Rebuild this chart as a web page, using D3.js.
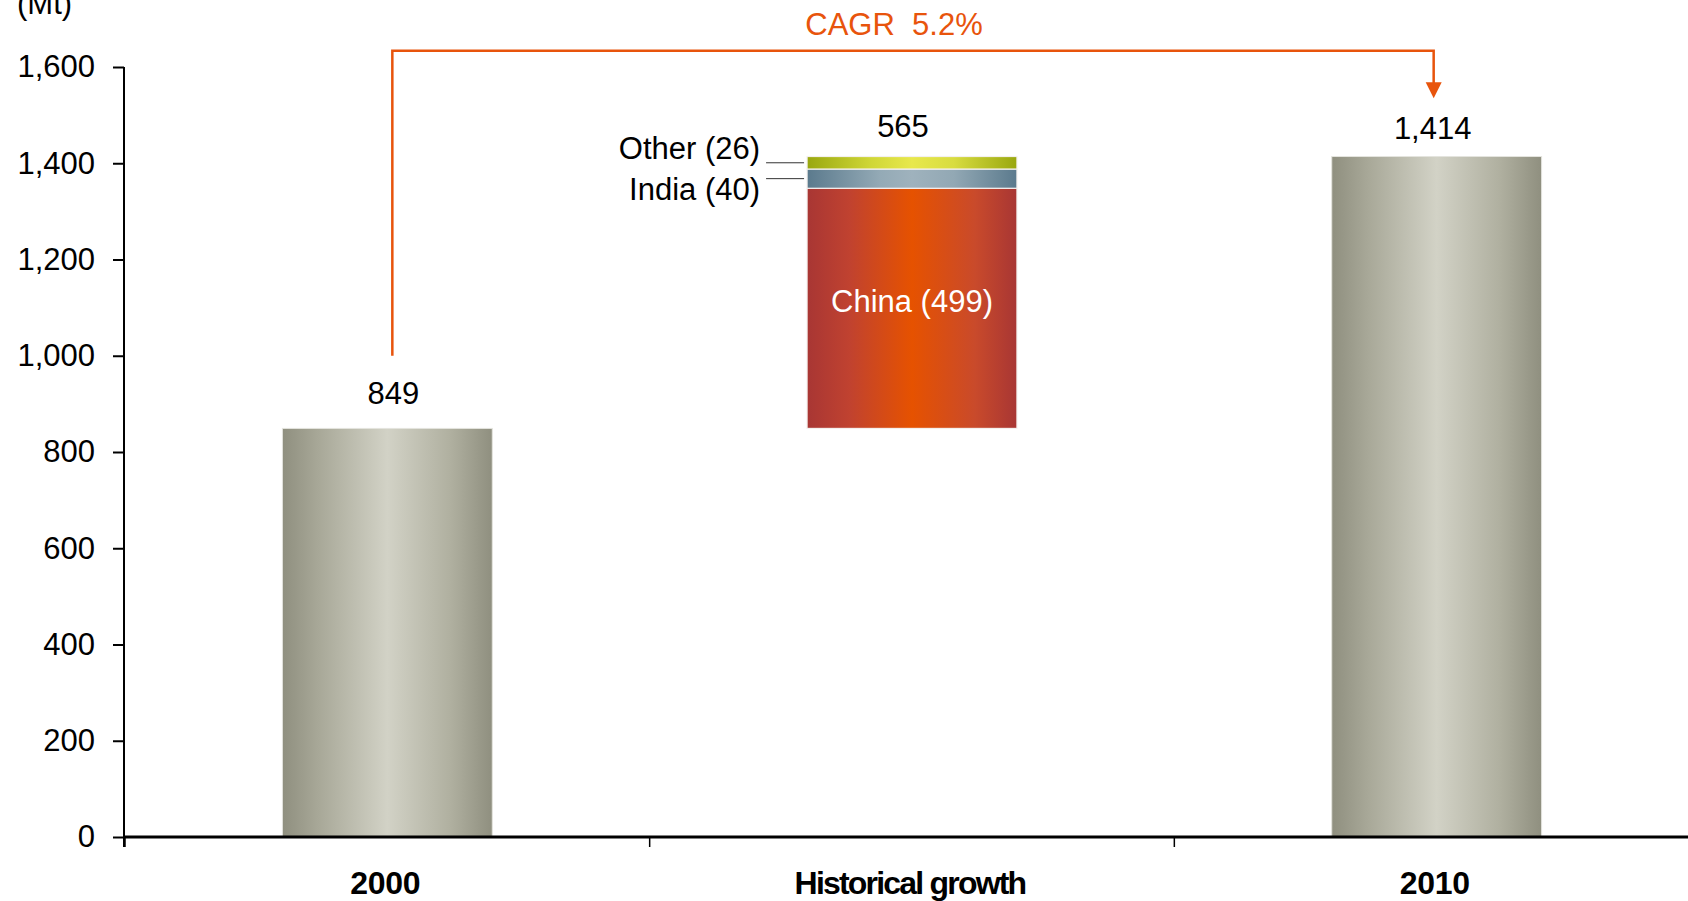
<!DOCTYPE html>
<html>
<head>
<meta charset="utf-8">
<script src="https://cdn.jsdelivr.net/npm/d3@7"></script>
<style>
  body { margin: 0; background: #fff; }
  text { font-family: "Liberation Sans", Arial, sans-serif; }
</style>
</head>
<body>
<div id="chart"></div>
<script>
const categories = ["2000", "Historical growth", "2010"];
const totals = [849, 565, 1414];
const segNames = ["China", "India", "Other"];
const segValues = [499, 40, 26];
const yTicks = [0, 200, 400, 600, 800, 1000, 1200, 1400, 1600];
const cagrLabel = "CAGR  5.2%";

const width = 1688, height = 901;

const svg = d3.select("#chart")
  .append("svg")
  .attr("width", width)
  .attr("height", height);

const x = d3.scaleBand().domain(categories).range([125, 1699]).padding(0);
const y = d3.scaleLinear().domain([0, 1600]).range([837, 67]);
const barW = x.bandwidth() * 0.4;
const cx = d => x(d) + x.bandwidth() / 2;

// gradients
const defs = svg.append("defs");
function grad(id, stops) {
  const g = defs.append("linearGradient").attr("id", id)
    .attr("x1", "0%").attr("x2", "100%").attr("y1", "0%").attr("y2", "0%");
  stops.forEach(s => g.append("stop").attr("offset", s[0]).attr("stop-color", s[1]));
}
grad("gGray", [[0, "#8f8f7f"], [0.18, "#a9a999"], [0.5, "#d2d2c6"], [0.8, "#b0b0a0"], [1, "#8f8f7f"]]);
grad("gChina", [[0, "#a83634"], [0.2, "#c04230"], [0.5, "#e65200"], [0.8, "#c94a2b"], [1, "#a83634"]]);
grad("gIndia", [[0, "#5b7a8d"], [0.35, "#94aab6"], [0.5, "#9fb2bd"], [0.7, "#92a8b4"], [1, "#5b7a8d"]]);
grad("gOther", [[0, "#99a70f"], [0.3, "#cfd636"], [0.5, "#e8e84c"], [0.7, "#d8dc40"], [1, "#99a70f"]]);

// y axis
const yAxis = svg.append("g")
  .attr("transform", "translate(124,0)")
  .call(d3.axisLeft(y).tickValues(yTicks).tickSize(11).tickPadding(18)
    .tickFormat(d3.format(",")));
yAxis.select(".domain").remove();
yAxis.selectAll(".tick line").attr("stroke", "#000").attr("stroke-width", 2);
yAxis.selectAll(".tick text")
  .attr("font-size", 31).attr("fill", "#000")
  .attr("font-family", "Liberation Sans, Arial, sans-serif");
svg.append("line")
  .attr("x1", 124).attr("x2", 124)
  .attr("y1", y(1600)).attr("y2", 847)
  .attr("stroke", "#000").attr("stroke-width", 2);

// totals bars (2000, 2010)
const ends = [0, 2];
svg.selectAll("rect.total")
  .data(ends)
  .join("rect")
  .attr("class", "total")
  .attr("x", i => cx(categories[i]) - barW / 2)
  .attr("width", barW)
  .attr("y", i => y(totals[i]))
  .attr("height", i => y(0) - y(totals[i]))
  .attr("fill", "url(#gGray)")
  .attr("stroke", "#e4e4de").attr("stroke-width", 1);

// stacked growth bar
let acc = totals[0];
const stack = segValues.map((v, i) => {
  const s = { name: segNames[i], value: v, y0: acc, y1: acc + v };
  acc += v;
  return s;
});
const fills = ["url(#gChina)", "url(#gIndia)", "url(#gOther)"];
const mid = categories[1];
svg.selectAll("rect.seg")
  .data(stack)
  .join("rect")
  .attr("class", "seg")
  .attr("x", cx(mid) - barW / 2)
  .attr("width", barW)
  .attr("y", d => y(d.y1))
  .attr("height", d => y(d.y0) - y(d.y1))
  .attr("fill", (d, i) => fills[i])
  .attr("stroke", "#f4f0ee").attr("stroke-width", 1.2);

// China label inside
svg.append("text")
  .attr("x", cx(mid))
  .attr("y", y((stack[0].y0 + stack[0].y1) / 2) + 4)
  .attr("text-anchor", "middle")
  .attr("font-size", 31).attr("fill", "#fff")
  .text(`${stack[0].name} (${stack[0].value})`);

// India / Other side labels with leaders
const barLeft = cx(mid) - barW / 2;
stack.slice(1).forEach((d, i) => {
  const ly = y((d.y0 + d.y1) / 2);
  svg.append("line")
    .attr("x1", barLeft - 41).attr("x2", barLeft - 3)
    .attr("y1", ly).attr("y2", ly)
    .attr("stroke", "#333").attr("stroke-width", 1);
  svg.append("text")
    .attr("x", barLeft - 47)
    .attr("y", d.name === "Other" ? ly - 4 : ly + 21)
    .attr("text-anchor", "end")
    .attr("font-size", 31).attr("fill", "#000")
    .text(`${d.name} (${d.value})`);
});

// value labels above bars
const labelDx = [6, -9, -4], labelGap = [24, 20, 18];
svg.selectAll("text.val")
  .data(categories)
  .join("text")
  .attr("class", "val")
  .attr("x", (d, i) => cx(d) + labelDx[i])
  .attr("y", (d, i) => y(i === 1 ? totals[0] + totals[1] : totals[i]) - labelGap[i])
  .attr("text-anchor", "middle")
  .attr("font-size", 31).attr("fill", "#000")
  .text((d, i) => d3.format(",")(totals[i]));

// x axis
svg.append("line")
  .attr("x1", 124).attr("x2", width)
  .attr("y1", y(0)).attr("y2", y(0))
  .attr("stroke", "#000").attr("stroke-width", 3);
svg.selectAll("line.xtick")
  .data(categories)
  .join("line")
  .attr("class", "xtick")
  .attr("x1", d => x(d)).attr("x2", d => x(d))
  .attr("y1", y(0)).attr("y2", y(0) + 10)
  .attr("stroke", "#000").attr("stroke-width", 1.5);
svg.selectAll("text.xlab")
  .data(categories)
  .join("text")
  .attr("class", "xlab")
  .attr("x", d => cx(d) - 2)
  .attr("y", 894)
  .attr("text-anchor", "middle")
  .attr("font-size", 32).attr("font-weight", "bold")
  .attr("letter-spacing", d => d.length > 4 ? -1.8 : -0.3)
  .attr("fill", "#000")
  .text(d => d);

// unit label
svg.append("text")
  .attr("x", 17).attr("y", 14)
  .attr("font-size", 31).attr("fill", "#000")
  .text("(Mt)");

// CAGR bracket
const orange = "#e8540c";
const xa = cx(categories[0]) + 5, xb = cx(categories[2]) - 3;
const topY = y(1634), startY = y(1000), tipY = y(1535);
svg.append("path")
  .attr("d", `M${xa},${startY}V${topY}H${xb}V${tipY - 15}`)
  .attr("fill", "none").attr("stroke", orange).attr("stroke-width", 2.5);
svg.append("path")
  .attr("d", `M${xb - 8},${tipY - 16}L${xb + 8},${tipY - 16}L${xb},${tipY}Z`)
  .attr("fill", orange);
svg.append("text")
  .attr("x", (xa + xb) / 2 - 19)
  .attr("y", 35)
  .attr("text-anchor", "middle")
  .attr("font-size", 31).attr("fill", orange)
  .style("white-space", "pre")
  .text(cagrLabel);
</script>
</body>
</html>
